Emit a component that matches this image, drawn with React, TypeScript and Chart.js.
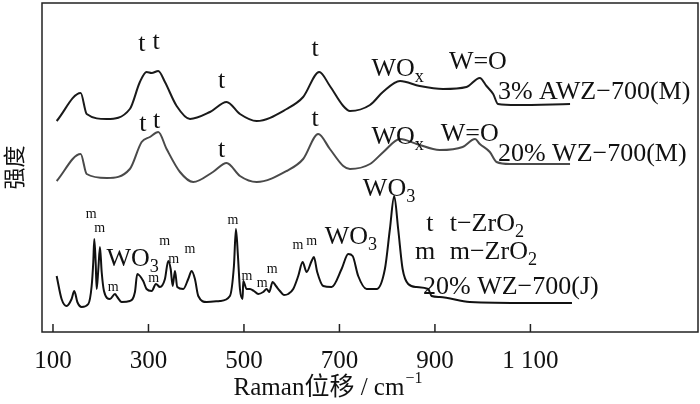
import React, { useEffect, useRef } from "react";
import { Chart, registerables } from "chart.js";
Chart.register(...registerables);

const topX = [107.7,158,170.6,212.5,261,282,296,306.7,320.5,334.5,359,387,428.8,463.7,491.6,526.6,589.4,624,657.6,680,708,722,764,791,827,868,917,966,994,1008,1022,1032,1071,1183];
const topY = [211,239,218,213,223,250,260,259,261,250,226,213,220,230,218,211,223,235,260,246,226,221,227,240,251,246,243,245,254,246,238,228,227,228];

const midX = [107.7,158,170.6,212.5,261,285.7,303,320.5,338,366,393.8,435,463.7,491.6,526.6,589.4,624,655.5,680,708,722,764,792,827,862,910,958,984,994,1015,1029,1057,1183];
const midY = [151,178,158,154,163,190,195,200,183,160,150,160,169,156,150,161,173,198,183,166,163,168,180,193,188,182,185,193,188,180,170,168,168];

const botX = [107.7,118,128.7,139,144.6,151,160,174,181,184.4,186.5,189.4,191.5,195,198.4,202,206.8,219.4,229.8,234.6,243.9,261,271.7,276.5,289,296,306.7,315.7,324,334.5,341.4,346.5,350.7,355.5,360.3,372.8,383.3,390.4,397.3,404.3,421.9,449.7,470.6,479,483.2,487.4,491.6,497.2,498.5,505.6,512.5,520.9,529.9,540.4,547.5,552.9,560,567,575.3,583.7,592.7,603.2,613.7,622.9,631.2,641.7,646.5,653.4,666,683.6,704.5,718.4,727.6,739.3,756.9,777.8,795.2,805.7,814.7,823,832.3,844,861.6,885.9,893,910.4,973,1099,1187];
const botY = [56,33,26,33,41,30,25,28,46,70,93,70,43,63,85,60,41,33,38,35,30,31,40,58,51,43,41,48,45,53,71,63,46,61,45,43,53,61,53,36,30,31,36,66,103,76,43,33,51,43,43,41,38,40,43,40,50,46,41,37,38,43,56,70,60,71,75,60,46,45,63,78,76,56,43,43,63,103,136,103,63,48,45,43,36,35,30,29,29,28];

const xTicks = [100, 300, 500, 700, 900, 1100];

type Lbl = { t: string; x: number; y: number; size: number; align?: CanvasTextAlign; sub?: string };
const labels: Lbl[] = [
  { t: "t", x: 286, y: 288, size: 26 }, { t: "t", x: 316, y: 290, size: 26 },
  { t: "t", x: 453, y: 251, size: 26 }, { t: "t", x: 649, y: 283, size: 26 },
  { t: "WO", sub: "x", x: 767, y: 263, size: 26, align: "left" }, { t: "W=O", x: 990, y: 270, size: 26 },
  { t: "3% AWZ−700(M)", x: 1032, y: 240, size: 26, align: "left" },
  { t: "t", x: 288, y: 208, size: 26 }, { t: "t", x: 317, y: 211, size: 26 },
  { t: "t", x: 453, y: 182, size: 26 }, { t: "t", x: 649, y: 213, size: 26 },
  { t: "WO", sub: "x", x: 767, y: 195, size: 26, align: "left" }, { t: "W=O", x: 973, y: 198, size: 26 },
  { t: "20% WZ−700(M)", x: 1032, y: 178, size: 26, align: "left" },
  { t: "WO", sub: "3", x: 749, y: 143, size: 26, align: "left" },
  { t: "t", x: 882, y: 108, size: 26, align: "left" }, { t: "t−ZrO", sub: "2", x: 931, y: 108, size: 26, align: "left" },
  { t: "m", x: 858, y: 80, size: 26, align: "left" }, { t: "m−ZrO", sub: "2", x: 931, y: 80, size: 26, align: "left" },
  { t: "20% WZ−700(J)", x: 875, y: 45, size: 26, align: "left" },
  { t: "WO", sub: "3", x: 724, y: 95, size: 26 }, { t: "WO", sub: "3", x: 267, y: 73, size: 26 },
  { t: "m", x: 180, y: 118, size: 14 }, { t: "m", x: 198, y: 104, size: 14 },
  { t: "m", x: 226, y: 45, size: 14 }, { t: "m", x: 311, y: 54, size: 14 },
  { t: "m", x: 334, y: 91, size: 14 }, { t: "m", x: 353, y: 73, size: 14 },
  { t: "m", x: 387, y: 83, size: 14 }, { t: "m", x: 477, y: 112, size: 14 },
  { t: "m", x: 506, y: 56, size: 14 }, { t: "m", x: 538, y: 49, size: 14 },
  { t: "m", x: 559, y: 63, size: 14 }, { t: "m", x: 613, y: 87, size: 14 },
  { t: "m", x: 642, y: 91, size: 14 },
];

const FONT = "'Liberation Serif', 'DejaVu Serif', 'Noto Sans CJK SC', serif";

const deco = {
  id: "deco",
  afterDraw(chart: any) {
    const { ctx, chartArea: a, scales } = chart;
    const xs = scales.x, ys = scales.y;
    ctx.save();
    ctx.strokeStyle = "#222";
    ctx.lineWidth = 1.5;
    ctx.strokeRect(a.left, a.top, a.right - a.left, a.bottom - a.top);
    xTicks.forEach((v) => {
      const px = xs.getPixelForValue(v);
      ctx.beginPath();
      ctx.moveTo(px, a.bottom);
      ctx.lineTo(px, a.bottom - 8);
      ctx.stroke();
    });
    ctx.fillStyle = "#111";
    ctx.textBaseline = "middle";
    ctx.textAlign = "left";
    labels.forEach((l) => {
      const px = xs.getPixelForValue(l.x);
      const py = ys.getPixelForValue(l.y);
      ctx.font = `${l.size}px ${FONT}`;
      const w = ctx.measureText(l.t).width;
      ctx.font = `${l.size * 0.7}px ${FONT}`;
      const sw = l.sub ? ctx.measureText(l.sub).width : 0;
      const x0 = l.align === "left" ? px : px - (w + sw) / 2;
      ctx.font = `${l.size}px ${FONT}`;
      ctx.fillText(l.t, x0, py);
      if (l.sub) {
        ctx.font = `${l.size * 0.7}px ${FONT}`;
        ctx.fillText(l.sub, x0 + w, py + l.size * 0.3);
      }
    });
    // x-axis title
    const main = "Raman位移 / cm";
    ctx.font = `25px ${FONT}`;
    const mw = ctx.measureText(main).width;
    ctx.font = `16px ${FONT}`;
    const supw = ctx.measureText("−1").width;
    const cx = xs.getPixelForValue(675);
    const tx = cx - (mw + supw) / 2;
    const ty = a.bottom + 56;
    ctx.font = `25px ${FONT}`;
    ctx.fillText(main, tx, ty);
    ctx.font = `16px ${FONT}`;
    ctx.fillText("−1", tx + mw + 1, ty - 9);
    ctx.restore();
  },
};

function mk(xs: number[], ys: number[]) {
  return xs.map((x, i) => ({ x, y: ys[i] }));
}

export default function App() {
  const ref = useRef<HTMLCanvasElement>(null);
  useEffect(() => {
    const c = new Chart(ref.current!, {
      type: "line",
      data: {
        datasets: [
          { data: mk(topX, topY), borderColor: "#1a1a1a" },
          { data: mk(midX, midY), borderColor: "#4a4a4a" },
          { data: mk(botX, botY), borderColor: "#111" },
        ].map((d) => ({ ...d, borderWidth: 2, pointRadius: 0, fill: false, tension: 0.3, cubicInterpolationMode: "monotone" as const })),
      },
      options: {
        animation: false,
        responsive: false,
        events: [],
        layout: { padding: { top: 3, right: 2, left: 0, bottom: 0 } },
        plugins: { legend: { display: false }, tooltip: { enabled: false } },
        scales: {
          x: {
            type: "linear",
            min: 77,
            max: 1451,
            afterBuildTicks: (s: any) => { s.ticks = xTicks.map((v) => ({ value: v })); },
            grid: { display: false },
            border: { display: false },
            ticks: {
              color: "#111",
              font: { family: FONT, size: 25 },
              padding: 6,
              maxRotation: 0,
              autoSkip: false,
              callback: (v: any) => (v === 1100 ? "1 100" : String(v)),
            },
            afterFit: (s: any) => { s.height = 72; },
          },
          y: {
            min: 0,
            max: 329,
            grid: { display: false },
            border: { display: false },
            ticks: { display: false },
            title: { display: true, text: "强度", color: "#111", font: { family: "'Noto Sans CJK SC', sans-serif", size: 22 }, padding: 0 },
            afterFit: (s: any) => { s.width = 42; },
          },
        },
      },
      plugins: [deco],
    });
    return () => c.destroy();
  }, []);
  return (
    <div style={{ position: "absolute", left: 0, top: 0, width: 700, height: 404, background: "#fff" }}>
      <canvas ref={ref} width={700} height={404} style={{ display: "block" }} />
    </div>
  );
}
